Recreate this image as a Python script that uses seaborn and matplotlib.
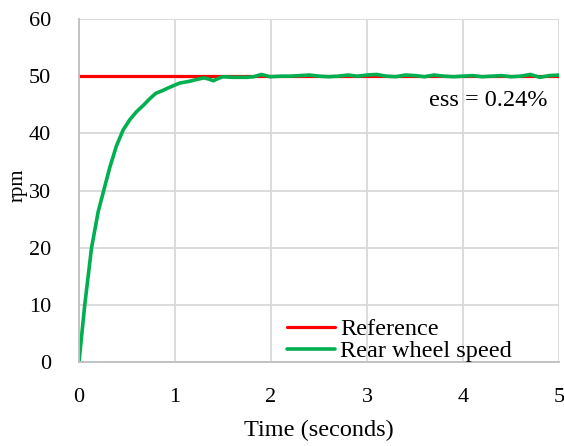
import matplotlib
matplotlib.use("Agg")
import matplotlib.pyplot as plt
import seaborn as sns

time_s = [0, 0.06, 0.13, 0.20, 0.27, 0.32, 0.39, 0.46, 0.53, 0.60, 0.67, 0.74,
          0.80, 0.86, 0.95, 1.05, 1.15, 1.22, 1.30, 1.35, 1.40, 1.45,
          1.50, 1.60, 1.75, 1.82, 1.90, 1.99,
          2.1, 2.2, 2.3, 2.4, 2.5, 2.6, 2.7, 2.8, 2.9, 3.0,
          3.1, 3.2, 3.3, 3.4, 3.5, 3.6, 3.7, 3.8, 3.9, 4.0,
          4.1, 4.2, 4.3, 4.4, 4.5, 4.6, 4.7, 4.8, 4.9, 5.0]
speed_rpm = [0, 10, 19.9, 26.3, 30.8, 34.0, 37.8, 40.6, 42.4, 43.8, 44.9, 46.1,
             47.0, 47.4, 48.1, 48.8, 49.1, 49.4, 49.7, 49.5, 49.2, 49.6,
             49.9, 49.8, 49.8, 49.9, 50.3, 49.9,
             50.0, 50.0, 50.1, 50.2, 50.0, 49.9, 50.0, 50.2, 50.0, 50.2,
             50.3, 50.0, 49.9, 50.2, 50.1, 49.9, 50.2, 50.0, 49.9, 50.0,
             50.1, 49.9, 50.0, 50.1, 49.9, 50.0, 50.3, 49.8, 50.1, 50.2]
ref_time = [0, 5]
ref_rpm = [50, 50]
x_ticks = [0, 1, 2, 3, 4, 5]
y_ticks = [0, 10, 20, 30, 40, 50, 60]

sns.set_theme(style="whitegrid")
plt.rcParams['font.family'] = ['Liberation Serif', 'DejaVu Serif']
plt.rcParams['text.color'] = 'black'
plt.rcParams['axes.labelcolor'] = 'black'

fig = plt.figure(figsize=(5.64, 4.46), dpi=100)
ax = fig.add_axes([79/564, 1-362/446, 480/564, 343/446])

sns.lineplot(x=ref_time, y=ref_rpm, ax=ax, color="#ff0000", linewidth=2.3,
             label="Reference")
sns.lineplot(x=time_s, y=speed_rpm, ax=ax, color="#00b050", linewidth=2.6,
             label="Rear wheel speed")

ax.set_xlim(0, 5)
ax.set_ylim(0, 60)
ax.set_xticks(x_ticks)
ax.set_yticks(y_ticks)
ax.grid(True, color="#d9d9d9", linewidth=1.3)
for s in ["top", "right"]:
    ax.spines[s].set_visible(False)
for s in ["left", "bottom"]:
    ax.spines[s].set_color("#bfbfbf")
    ax.spines[s].set_linewidth(1.3)
ax.tick_params(axis="both", length=0, labelsize=16, colors="black")
ax.tick_params(axis="x", pad=19)
ax.tick_params(axis="y", pad=20)
ax.set_xlabel("Time (seconds)", fontsize=17.5, color="black")
ax.set_ylabel("rpm", fontsize=15, color="black")
ax.xaxis.set_label_coords(0.5, -0.169)
ax.yaxis.set_label_coords(-0.108, 0.516)

ax.text(4.885, 44.75, "ess = 0.24%", fontsize=17.5, ha="right", va="baseline",
        color="black")

leg = ax.legend(loc="center left", bbox_to_anchor=(0.433, 0.064), frameon=False,
                fontsize=17.5, handlelength=2.0, handletextpad=0.2,
                labelspacing=0.0, borderpad=0, borderaxespad=0)
for t in leg.get_texts():
    t.set_color("black")

fig.savefig("out.png", dpi=100)
